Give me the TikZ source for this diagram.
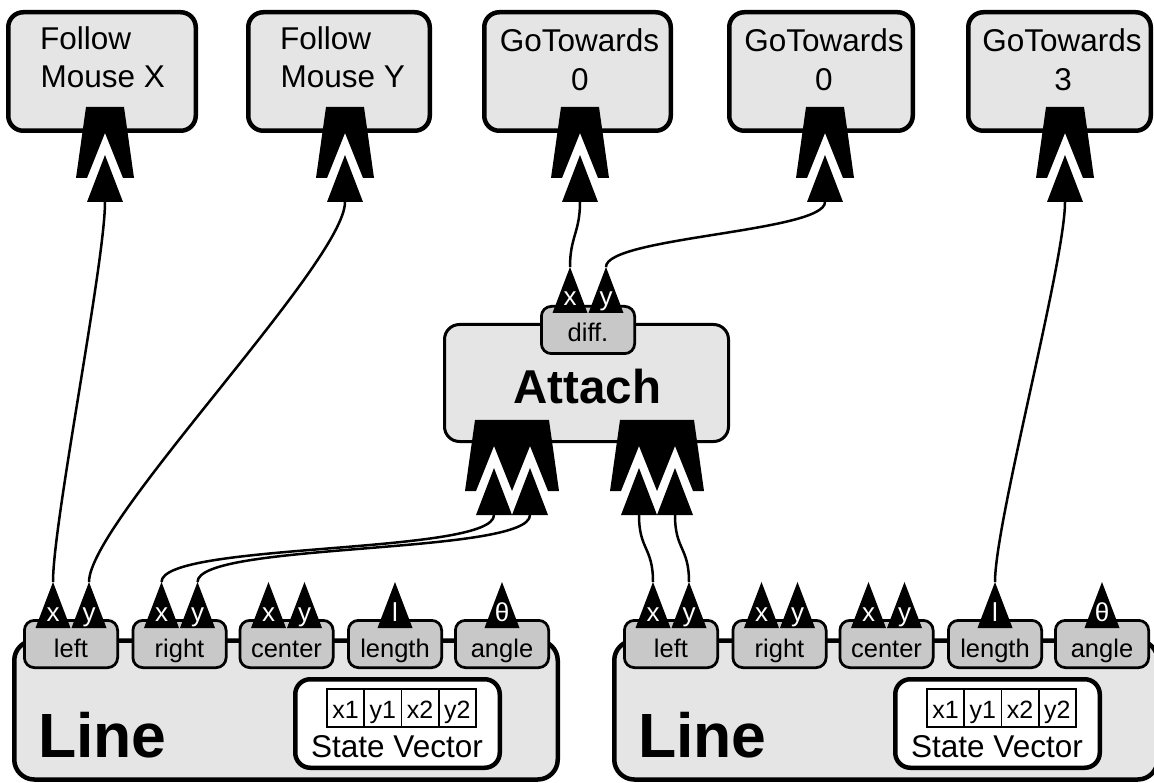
\documentclass[tikz,border=0pt]{standalone}
\usepackage{fontspec}
\setmainfont{Liberation Sans}
\definecolor{boxgray}{HTML}{E5E5E5}
\definecolor{portgray}{HTML}{C8C8C8}
\newcommand\fBox{\fontsize{31.5pt}{37pt}\selectfont}
\newcommand\fPort{\fontsize{25.5pt}{30pt}\selectfont}
\newcommand\fTri{\fontsize{26pt}{28pt}\selectfont}
\newcommand\fCell{\fontsize{25pt}{28pt}\selectfont}
\newcommand\fAttach{\fontsize{47.5pt}{50pt}\selectfont\bfseries}
\newcommand\fLine{\fontsize{62.5pt}{66pt}\selectfont\bfseries}
\tikzset{
  topbox/.style={draw, line width=4.5pt, rounded corners=15pt, fill=boxgray, inner sep=0pt, minimum height=118.5pt},
  boxtext/.style={font=\fBox, inner sep=0pt},
  attachbox/.style={draw, line width=3pt, rounded corners=15pt, fill=boxgray, inner sep=0pt},
  linebox/.style={draw, line width=4.5pt, rounded corners=20pt, fill=boxgray, inner sep=0pt, minimum width=543.5pt, minimum height=139pt},
  svbox/.style={draw, line width=4.5pt, rounded corners=15pt, fill=white, inner sep=0pt, minimum width=204.5pt, minimum height=88.5pt},
  cell/.style={draw, line width=1.5pt, fill=white, inner sep=0pt, minimum width=37.25pt, minimum height=38pt, text height=20pt, text depth=0pt, font=\fCell},
  port/.style={draw, line width=2.75pt, rounded corners=10pt, fill=portgray, inner sep=0pt, minimum width=93.25pt, minimum height=47.25pt, text height=26pt, text depth=0pt, font=\fPort},
  wire/.style={line width=2.5pt},
  insock/.pic={
    \fill (-19,0) -- (19,0) -- (29,71) -- (18,71) -- (0,26) -- (-18,71) -- (-29,71) -- cycle;
    \fill (0,48) -- (18,95) -- (-18,95) -- cycle;
    \coordinate (-in) at (0,95);
  },
  insockii/.pic={
    \fill (-19,0) -- (55,0) -- (65,71) -- (54,71) -- (36,26) -- (18,71) -- (0,26) -- (-18,71) -- (-29,71) -- cycle;
    \fill (0,48) -- (18,95) -- (-18,95) -- cycle;
    \fill (36,48) -- (54,95) -- (18,95) -- cycle;
    \coordinate (-ina) at (0,95);
    \coordinate (-inb) at (36,95);
  },
  otri/.pic={
    \fill (0,0) -- (17.5,46) -- (-17.5,46) -- cycle;
    \node[text=white, font=\fTri, inner sep=0pt, anchor=base] at (0,39) {\tikzpictext};
    \coordinate (-tip) at (0,0);
  }
}
\begin{document}
\begin{tikzpicture}[x=1pt,y=-1pt]
\useasboundingbox (0,0) rectangle (1154,783);
\clip (0,0) rectangle (1154,783);

% top boxes
\node[topbox, minimum width=187.5pt] (fmx) at (102,71.5) {};
\node[topbox, minimum width=181.5pt] (fmy) at (339,71.5) {};
\node[topbox, minimum width=186.5pt] (gt1) at (577.5,71.5) {};
\node[topbox, minimum width=183.5pt] (gt2) at (821,71.5) {};
\node[topbox, minimum width=182.5pt] (gt3) at (1059.5,71.5) {};

\node[boxtext, anchor=base west] (fmxa) at (40,50) {Follow};
\node[boxtext, anchor=base west] (fmxb) at (40.5,88) {Mouse X};
\node[boxtext, anchor=base west] (fmya) at (280,50) {Follow};
\node[boxtext, anchor=base west] (fmyb) at (280.5,88) {Mouse Y};
\node[boxtext, anchor=base] (gt1a) at (579.5,52) {GoTowards};
\node[boxtext, anchor=base] (gt1b) at (580,91) {0};
\node[boxtext, anchor=base] (gt2a) at (824,52) {GoTowards};
\node[boxtext, anchor=base] (gt2b) at (824,91) {0};
\node[boxtext, anchor=base] (gt3a) at (1062,52) {GoTowards};
\node[boxtext, anchor=base] (gt3b) at (1063,91) {3};

\pic (s1) at (105,107) {insock};
\pic (s2) at (345,107) {insock};
\pic (s3) at (580,107) {insock};
\pic (s4) at (825,107) {insock};
\pic (s5) at (1065,107) {insock};

% attach
\node[attachbox, minimum width=284pt, minimum height=117pt] (att) at (586.5,383) {};
\node[font=\fAttach, inner sep=0pt, anchor=base] (attl) at (587.5,403) {Attach};
\node[port, text height=24pt] (diff) at (588,330) {diff.};
\pic[pic text=x] (dx) at (570,267) {otri};
\pic[pic text=y] (dy) at (606,267) {otri};
\pic (as1) at (494,420) {insockii};
\pic (as2) at (639,420) {insockii};

% line 1
\node[linebox] (ln1) at (286,710) {};
\node[port] (l1left) at (71,644) {left};
\node[port] (l1right) at (179.5,644) {right};
\node[port] (l1center) at (286.5,644) {center};
\node[port] (l1length) at (395,644) {length};
\node[port] (l1angle) at (502,644) {angle};
\pic[pic text=x] (l1lx) at (53,582) {otri};
\pic[pic text=y] (l1ly) at (89,582) {otri};
\pic[pic text=x] (l1rx) at (161.5,582) {otri};
\pic[pic text=y] (l1ry) at (197.5,582) {otri};
\pic[pic text=x] (l1cx) at (268.5,582) {otri};
\pic[pic text=y] (l1cy) at (304.5,582) {otri};
\pic[pic text=l] (l1l) at (395,582) {otri};
\pic[pic text=θ] (l1t) at (502,582) {otri};
\node[font=\fLine, inner sep=0pt, anchor=base west] (ln1t) at (38,757) {Line};
\node[svbox] (sv1) at (397.5,723.5) {};
\node[cell] (c11) at (345.6,708) {x1};
\node[cell] (c12) at (382.9,708) {y1};
\node[cell] (c13) at (420.1,708) {x2};
\node[cell] (c14) at (457.4,708) {y2};
\node[boxtext, anchor=base] (sv1t) at (397,757) {State Vector};

% line 2
\node[linebox] (ln2) at (886,710) {};
\node[port] (l2left) at (671,644) {left};
\node[port] (l2right) at (779.5,644) {right};
\node[port] (l2center) at (886.5,644) {center};
\node[port] (l2length) at (995,644) {length};
\node[port] (l2angle) at (1102,644) {angle};
\pic[pic text=x] (l2lx) at (653,582) {otri};
\pic[pic text=y] (l2ly) at (689,582) {otri};
\pic[pic text=x] (l2rx) at (761.5,582) {otri};
\pic[pic text=y] (l2ry) at (797.5,582) {otri};
\pic[pic text=x] (l2cx) at (868.5,582) {otri};
\pic[pic text=y] (l2cy) at (904.5,582) {otri};
\pic[pic text=l] (l2l) at (995,582) {otri};
\pic[pic text=θ] (l2t) at (1102,582) {otri};
\node[font=\fLine, inner sep=0pt, anchor=base west] (ln2t) at (638,757) {Line};
\node[svbox] (sv2) at (997.5,723.5) {};
\node[cell] (c21) at (945.6,708) {x1};
\node[cell] (c22) at (982.9,708) {y1};
\node[cell] (c23) at (1020.1,708) {x2};
\node[cell] (c24) at (1057.4,708) {y2};
\node[boxtext, anchor=base] (sv2t) at (997,757) {State Vector};

% wires
\draw[wire] (l1lx-tip) .. controls +(0,-60) and +(0,60) .. (s1-in);
\draw[wire] (l1ly-tip) .. controls +(0,-60) and +(0,60) .. (s2-in);
\draw[wire] (l1rx-tip) .. controls +(0,-40) and +(0,40) .. (as1-ina);
\draw[wire] (l1ry-tip) .. controls +(0,-40) and +(0,40) .. (as1-inb);
\draw[wire] (l2lx-tip) .. controls +(0,-35) and +(0,35) .. (as2-ina);
\draw[wire] (l2ly-tip) .. controls +(0,-35) and +(0,35) .. (as2-inb);
\draw[wire] (l2l-tip) .. controls +(0,-60) and +(0,60) .. (s5-in);
\draw[wire] (dx-tip) .. controls +(0,-30) and +(0,30) .. (s3-in);
\draw[wire] (dy-tip) .. controls +(0,-30) and +(0,30) .. (s4-in);
\end{tikzpicture}
\end{document}
